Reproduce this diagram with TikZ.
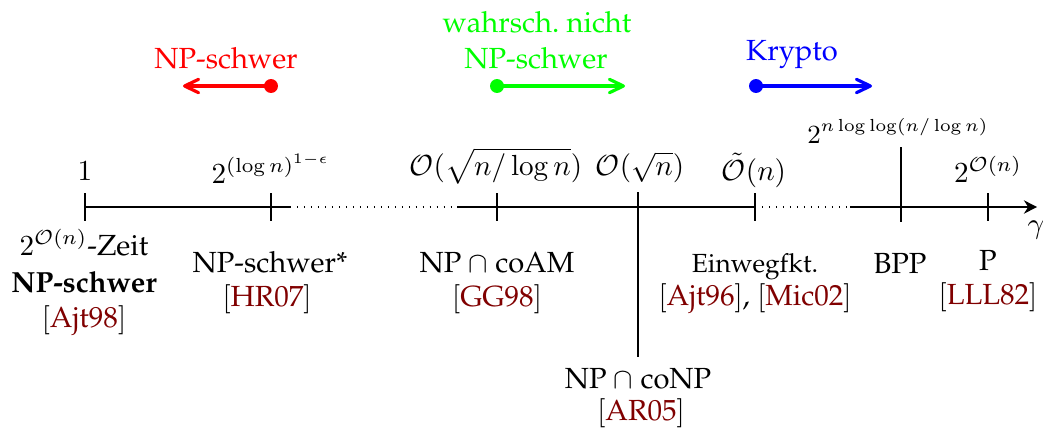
\documentclass[tikz,border=0pt]{standalone}
\usepackage[T1]{fontenc}
\usepackage{palatino}
\usetikzlibrary{arrows.meta}
\definecolor{citered}{rgb}{0.5,0,0}
\newcommand{\ck}[1]{$[$\textcolor{citered}{#1}$]$}

\begin{document}
\begin{tikzpicture}[x=0.3436pt,y=-0.3436pt,
  axisline/.style={semithick},
  tickline/.style={thin},
  gapline/.style={thin, dotted},
  lbl/.style={anchor=base, inner sep=0pt},
  smalllbl/.style={lbl, font=\small},
  rangearrow/.style={line width=1.1pt, -{Straight Barb[length=4.8pt,width=4.6pt,round]}},
  rdot/.style={circle, inner sep=0pt, minimum size=4.8pt},
]
\useasboundingbox (0,0) rectangle (1043,427);

% ---- axis ----
\coordinate (a0) at (85,207);
\coordinate (a1) at (290,207);
\coordinate (a2) at (457,207);
\coordinate (a3) at (755,207);
\coordinate (a4) at (850,207);
\coordinate (aend) at (1037,207);
\draw[axisline] (a0) -- (a1);
\draw[gapline] (a1) -- (a2);
\draw[axisline] (a2) -- (a3);
\draw[gapline] (a3) -- (a4);
\draw[axisline, -{Stealth[length=4.5pt,width=4.6pt]}] (a4) -- (aend);

% ---- ticks ----
\coordinate (t1) at (85,207);
\coordinate (t2) at (271,207);
\coordinate (t3) at (497,207);
\coordinate (t4) at (755,207);
\coordinate (t5) at (988,207);
\coordinate (tc) at (638,207);
\coordinate (tb) at (901,207);
\foreach \t in {t1,t2,t3,t4,t5}
  \draw[tickline] (\t) ++(0,-14) -- ++(0,28);
\draw[tickline] (tc) ++(0,-15) -- ++(0,165);
\draw[tickline] (tb) ++(0,-60) -- ++(0,75);

% ---- values above the axis ----
\node[lbl] (v1) at (85,180) {$1$};
\node[lbl] (v2) at (271,183) {$2^{(\log n)^{1-\epsilon}}$};
\node[lbl] (v3) at (496,175) {$\mathcal{O}(\sqrt{n/\log n})$};
\node[lbl] (v4) at (640,175) {$\mathcal{O}(\sqrt{n})$};
\node[lbl] (v5) at (754,180) {$\tilde{\mathcal{O}}(n)$};
\node[smalllbl] (v6) at (898,143) {$2^{n\log\log(n/\log n)}$};
\node[lbl] (v7) at (988,182) {$2^{\mathcal{O}(n)}$};
\node[lbl] (gam) at (1036,233) {$\gamma$};

% ---- results below the axis ----
\node[lbl] (r1a) at (84,255) {$2^{\mathcal{O}(n)}$-Zeit};
\node[lbl] (r1b) at (84,292) {\textbf{NP-schwer}};
\node[lbl] (r1c) at (84,327) {\ck{Ajt98}};

\node[lbl] (r2a) at (270,272) {NP-schwer*};
\node[lbl] (r2b) at (267,306) {\ck{HR07}};

\node[lbl] (r3a) at (497,272) {NP $\cap$ coAM};
\node[lbl] (r3b) at (497,306) {\ck{GG98}};

\node[smalllbl] (r4a) at (755,272) {Einwegfkt.};
\node[lbl] (r4b) at (755,305) {\ck{Ajt96}, \ck{Mic02}};

\node[lbl] (r5a) at (900,273) {BPP};

\node[lbl] (r6a) at (988,270) {P};
\node[lbl] (r6b) at (988,304) {\ck{LLL82}};

\node[lbl] (r7a) at (638,388) {NP $\cap$ coNP};
\node[lbl] (r7b) at (641,420) {\ck{AR05}};

% ---- legend ----
\node[lbl, text=red] (lr) at (226,68) {NP-schwer};
\node[rdot, fill=red] (dr) at (271,86) {};
\coordinate (er) at (183,86);
\draw[rangearrow, red] (dr.center) -- (er);

\node[lbl, text=green] (lg1) at (537,32) {wahrsch.\ nicht};
\node[lbl, text=green] (lg2) at (536,68) {NP-schwer};
\node[rdot, fill=green] (dg) at (497,86) {};
\coordinate (eg) at (625,86);
\draw[rangearrow, green] (dg.center) -- (eg);

\node[lbl, text=blue] (lb) at (792,60) {Krypto};
\node[rdot, fill=blue] (db) at (756,86) {};
\coordinate (eb) at (872,86);
\draw[rangearrow, blue] (db.center) -- (eb);
\end{tikzpicture}
\end{document}
